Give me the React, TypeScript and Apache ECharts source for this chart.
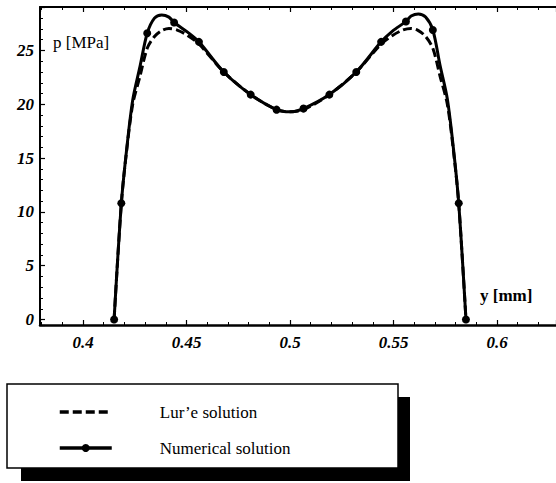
import React, { useEffect, useRef } from "react";
import * as echarts from "echarts";

// y [mm] positions and pressures p [MPa]
const lureX = [0.415, 0.4185, 0.421, 0.424, 0.4275, 0.431, 0.4345, 0.438, 0.4415, 0.4455, 0.4505, 0.456, 0.468, 0.481, 0.4935, 0.5,
  0.5065, 0.519, 0.532, 0.544, 0.5495, 0.5545, 0.5585, 0.562, 0.5655, 0.569, 0.5725, 0.576, 0.579, 0.5815, 0.585];
const lureP = [0, 10.8, 15.6, 20.0, 22.6, 25.2, 26.3, 26.85, 27.05, 26.9, 26.4, 25.6, 23.0, 20.9, 19.5, 19.3,
  19.5, 20.9, 23.0, 25.6, 26.4, 26.9, 27.05, 26.85, 26.3, 25.2, 22.6, 20.0, 15.6, 10.8, 0];

const numX = [0.415, 0.4185, 0.421, 0.424, 0.4275, 0.431, 0.4345, 0.438, 0.4415, 0.444, 0.4505, 0.456, 0.468, 0.481, 0.4935, 0.5,
  0.5065, 0.519, 0.532, 0.544, 0.5495, 0.556, 0.5585, 0.562, 0.5655, 0.569, 0.5725, 0.576, 0.579, 0.5815, 0.585];
const numP = [0, 10.8, 15.7, 20.4, 23.5, 26.6, 28.0, 28.3, 28.1, 27.6, 26.7, 25.8, 23.0, 20.9, 19.5, 19.3,
  19.6, 20.9, 23.0, 25.8, 26.8, 27.7, 28.2, 28.4, 28.1, 26.9, 23.6, 20.5, 15.8, 10.8, 0];
// which numerical points carry a dot marker
const numMarked = [1, 1, 0, 0, 0, 1, 0, 0, 0, 1, 0, 1, 1, 1, 1, 0,
  1, 1, 1, 1, 0, 1, 0, 0, 0, 1, 0, 0, 0, 1, 1];

const seriesNames = ["Lur\u2019e solution", "Numerical solution"];
const xLabelText = "y [mm]";
const yLabelText = "p [MPa]";

const X_MIN = 0.3792;
const X_MAX = 0.6285;
const Y_MIN = -0.51;
const Y_MAX = 29.04;

const SERIF = "Times New Roman, Liberation Serif, serif";

export default function App() {
  const ref = useRef<HTMLDivElement>(null);
  useEffect(() => {
    if (!ref.current) return;
    const chart = echarts.init(ref.current, undefined, { renderer: "svg" });
    const tickLabel = {
      color: "#000",
      fontFamily: SERIF,
      fontStyle: "italic",
      fontWeight: "bold",
      fontSize: 17,
      showMinLabel: false,
      showMaxLabel: false,
    };
    const xBase = {
      type: "value",
      min: X_MIN,
      max: X_MAX,
      splitNumber: 5,
      splitLine: { show: false },
      axisLine: { show: true, onZero: false, lineStyle: { color: "#000", width: 2.5 } },
      axisTick: { show: true, inside: true, length: 5, lineStyle: { color: "#000", width: 1.2 } },
      minorTick: { show: true, splitNumber: 5, length: 3, lineStyle: { color: "#000", width: 1 } },
    };
    const option: any = {
      animation: false,
      grid: { left: 40, right: 0, top: 7, bottom: 158, containLabel: false },
      xAxis: [
        { ...xBase, position: "bottom", axisLabel: { ...tickLabel, margin: 9 } },
        { ...xBase, position: "top", axisLine: { show: true, onZero: false, lineStyle: { color: "#000", width: 2 } }, axisLabel: { show: false } },
      ],
      yAxis: {
        type: "value",
        min: Y_MIN,
        max: Y_MAX,
        splitNumber: 6,
        splitLine: { show: false },
        axisLine: { show: true, onZero: false, lineStyle: { color: "#000", width: 2 } },
        axisTick: { show: true, inside: true, length: 5, lineStyle: { color: "#000", width: 1.2 } },
        minorTick: { show: true, splitNumber: 5, length: 3, lineStyle: { color: "#000", width: 1 } },
        axisLabel: { ...tickLabel, margin: 6 },
      },
      legend: {
        orient: "vertical",
        left: 58,
        top: 402,
        padding: 0,
        itemWidth: 52,
        itemHeight: 10,
        itemGap: 16,
        selectedMode: false,
        z: 10,
        data: [
          { name: seriesNames[0], itemStyle: { opacity: 0 } },
          { name: seriesNames[1] },
        ],
        lineStyle: { width: 3.5 },
        textStyle: { fontFamily: SERIF, fontSize: 17, color: "#000", lineHeight: 20, padding: [0, 0, 0, 43] },
      },
      graphic: [
        { type: "rect", z: 1, silent: true, shape: { x: 21, y: 397, width: 389, height: 84 }, style: { fill: "#000" } },
        { type: "rect", z: 2, silent: true, shape: { x: 7, y: 384, width: 391, height: 84 }, style: { fill: "#fff", stroke: "#000", lineWidth: 1.5 } },
        { type: "text", z: 5, x: 53, y: 42, style: { text: yLabelText, fontFamily: SERIF, fontSize: 17, fill: "#000", verticalAlign: "middle" } },
        { type: "text", z: 5, x: 480, y: 295, style: { text: xLabelText, fontFamily: SERIF, fontSize: 17, fontWeight: "bold", fill: "#000", verticalAlign: "middle" } },
      ],
      series: [
        {
          type: "line",
          name: seriesNames[1],
          data: numX.map((x, i) => (numMarked[i] ? [x, numP[i]] : { value: [x, numP[i]], symbol: "none" })),
          smooth: 0.3,
          symbol: "circle",
          symbolSize: 8,
          showAllSymbol: true,
          itemStyle: { color: "#000" },
          lineStyle: { color: "#000", width: 3 },
          z: 2,
        },
        {
          type: "line",
          name: seriesNames[0],
          data: lureX.map((x, i) => [x, lureP[i]]),
          smooth: 0.3,
          symbol: "none",
          itemStyle: { color: "#000" },
          lineStyle: { color: "#000", width: 3, type: [9, 4] },
          z: 3,
        },
      ],
    };
    chart.setOption(option);
    return () => chart.dispose();
  }, []);
  return <div ref={ref} style={{ position: "absolute", left: 0, top: 0, width: 556, height: 483, background: "#fff" }} />;
}
